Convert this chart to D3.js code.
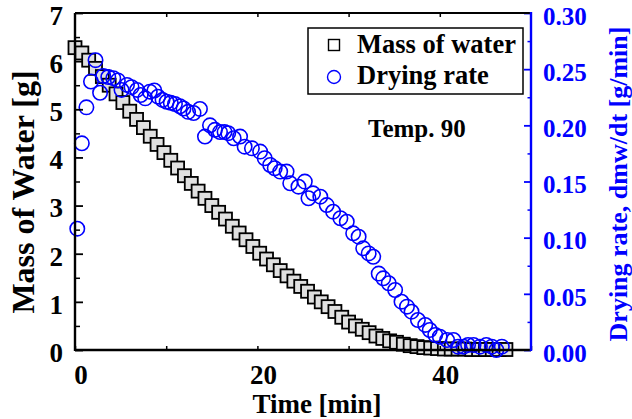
<!DOCTYPE html>
<html><head><meta charset="utf-8">
<script src="https://cdn.jsdelivr.net/npm/d3@7"></script>
<style>
html,body{margin:0;padding:0;background:#fff;}
text{font-family:"Liberation Serif","Times New Roman",serif;font-weight:bold;}
</style></head>
<body><svg id="c" width="632" height="419"></svg>
<script>
// ---- data ----
const massTime = [0,0.75,1.5,2.25,3,3.75,4.5,5.25,6,6.75,7.5,8.25,9,9.75,10.5,11.25,12,12.75,13.5,14.25,15,15.75,16.5,17.25,18,18.75,19.5,20.25,21,21.75,22.5,23.25,24,24.75,25.5,26.25,27,27.75,28.5,29.25,30,30.75,31.5,32.25,33,33.75,34.5,35.25,36,36.75,37.5,38.25,39,39.75,40.5,41.25,42,42.75,43.5,44.25,45,45.75,46.5,47.25];
const massWater = [6.28,6.17,6.02,5.85,5.68,5.50,5.32,5.14,4.96,4.79,4.62,4.44,4.27,4.10,3.94,3.78,3.62,3.46,3.30,3.15,3.00,2.86,2.72,2.57,2.43,2.29,2.15,2.01,1.89,1.77,1.65,1.54,1.43,1.32,1.22,1.10,1.00,0.90,0.80,0.68,0.58,0.50,0.43,0.36,0.29,0.24,0.19,0.16,0.12,0.09,0.07,0.05,0.04,0.03,0.02,0.02,0.02,0.02,0.01,0.01,0.01,0.01,0.01,0.01];
const rateTime = [0.25,0.75,1.25,1.75,2.25,2.75,3.1,3.65,4.2,4.7,5.1,5.7,6.2,6.8,7.2,7.7,8.2,8.7,9.1,9.6,10.05,10.5,10.96,11.5,11.9,12.4,13.0,13.7,14.25,14.8,15.35,15.9,16.4,16.8,17.4,18.1,18.6,19.4,20.3,20.8,21.4,21.9,22.5,23.2,23.6,24.5,25.2,25.6,26.1,26.9,27.6,28.3,29.1,29.8,30.5,31.1,31.6,32.2,32.7,33.3,33.8,34.4,35.1,35.8,36.4,36.9,37.6,38.4,38.9,39.5,40.0,40.8,41.5,42.0,42.6,43.1,43.7,44.4,45.1,45.7,46.2,46.8];
const dryingRate = [0.108,0.184,0.216,0.239,0.258,0.229,0.244,0.243,0.242,0.240,0.2315,0.236,0.234,0.2315,0.227,0.224,0.230,0.231,0.2255,0.2226,0.221,0.220,0.219,0.217,0.215,0.212,0.211,0.2146,0.190,0.200,0.196,0.194,0.194,0.193,0.1885,0.190,0.181,0.1795,0.1766,0.1707,0.1647,0.1618,0.1588,0.1588,0.1484,0.1454,0.1499,0.1351,0.1395,0.1365,0.129,0.1231,0.1173,0.1142,0.1039,0.1009,0.0905,0.086,0.083,0.068,0.0638,0.0594,0.0534,0.043,0.0386,0.0341,0.0267,0.0223,0.0178,0.0134,0.0118,0.0089,0.0089,0.003,0.003,0.0045,0.0045,0.003,0.0045,0.003,0.0,0.003];
const xTickLabels = [0,20,40];
const leftTickLabels = [0,1,2,3,4,5,6,7];
const rightTickLabels = [0,0.05,0.10,0.15,0.20,0.25,0.30];
const legendLabels = ["Mass of water","Drying rate"];
const annotation = "Temp. 90";
const xTitle = "Time [min]";
const yLeftTitle = "Mass of Water [g]";
const yRightTitle = "Drying rate, dmw/dt [g/min]";

// ---- layout ----
const L = 75, R = 531, T = 13, B = 350;
const BLUE = "#0000ff";
const FS = 25;
const svg = d3.select("#c");
const x = d3.scaleLinear().domain([0,50]).range([L,R]);
const yL = d3.scaleLinear().domain([0,7]).range([B,T]);
const yR = d3.scaleLinear().domain([0,0.3]).range([B,T]);

function styleAxis(g, color, sw, fs){
  g.select(".domain").remove();
  g.selectAll(".tick line").attr("stroke", color).attr("stroke-width", sw);
  g.selectAll(".tick text").attr("fill", color).style("font-size", (fs||FS)+"px").style("font-family",'"Liberation Serif","Times New Roman",serif').style("font-weight","bold");
}

// data: squares
const sq = 13;
svg.append("g").selectAll("rect").data(massTime).join("rect")
  .attr("x", (d)=>x(d)-sq/2).attr("y", (d,i)=>yL(massWater[i])-sq/2)
  .attr("width", sq).attr("height", sq)
  .attr("fill", "#e0e0e0").attr("stroke", "#000").attr("stroke-width", 1.8);

// circles
svg.append("g").selectAll("circle").data(rateTime).join("circle")
  .attr("cx", d=>x(d)).attr("cy", (d,i)=>yR(dryingRate[i])).attr("r", 7.2)
  .attr("fill", "none").attr("stroke", BLUE).attr("stroke-width", 1.6);

// axes
const gB = svg.append("g").attr("transform",`translate(0,${B})`)
  .call(d3.axisBottom(x).tickValues([0,10,20,30,40,50]).tickSize(-4).tickFormat(""));
styleAxis(gB,"#000",1.5);
svg.append("g").selectAll("text").data(xTickLabels).join("text")
  .attr("x", d=>x(d)+6).attr("y", 384).attr("text-anchor","middle")
  .style("font-size","27px").text(d=>d);
const gT = svg.append("g").attr("transform",`translate(0,${T})`)
  .call(d3.axisTop(x).tickValues([10,20,30,40]).tickSize(-4).tickFormat(""));
styleAxis(gT,"#000",1.5);
const gLm = svg.append("g").attr("transform",`translate(${L},0)`)
  .call(d3.axisLeft(yL).tickValues(d3.range(0.5,7,1)).tickSize(-5).tickFormat(""));
styleAxis(gLm,"#000",1.5);
const gL = svg.append("g").attr("transform",`translate(${L},0)`)
  .call(d3.axisLeft(yL).tickValues(leftTickLabels).tickSize(-8).tickPadding(12).tickFormat(d3.format("d")));
styleAxis(gL,"#000",1.8,27);
gL.selectAll(".tick text").attr("dy","0.42em");
const gRm = svg.append("g").attr("transform",`translate(${R},0)`)
  .call(d3.axisRight(yR).tickValues(d3.range(0.025,0.3,0.05)).tickSize(-3.5).tickFormat(""));
styleAxis(gRm,BLUE,1.5);
const gR = svg.append("g").attr("transform",`translate(${R},0)`)
  .call(d3.axisRight(yR).tickValues(rightTickLabels).tickSize(-7).tickPadding(12).tickFormat(d3.format(".2f")));
styleAxis(gR,BLUE,1.8);
gR.selectAll(".tick text").attr("dy","0.45em");

// frame lines
svg.append("line").attr("x1",L).attr("x2",R).attr("y1",T).attr("y2",T).attr("stroke","#000").attr("stroke-width",2);
svg.append("line").attr("x1",L).attr("x2",R).attr("y1",B).attr("y2",B).attr("stroke","#000").attr("stroke-width",2.4);
svg.append("line").attr("x1",L).attr("x2",L).attr("y1",T).attr("y2",B+1).attr("stroke","#000").attr("stroke-width",2.4);
svg.append("line").attr("x1",R).attr("x2",R).attr("y1",T-1).attr("y2",B+1).attr("stroke",BLUE).attr("stroke-width",2.4);

// legend
svg.append("rect").attr("x",308).attr("y",28).attr("width",215).attr("height",66)
  .attr("fill","#fff").attr("stroke","#000").attr("stroke-width",1.5);
svg.append("rect").attr("x",334-5.5).attr("y",45-5.5).attr("width",11).attr("height",11)
  .attr("fill","#fff").attr("stroke","#000").attr("stroke-width",1.4);
svg.append("circle").attr("cx",334).attr("cy",77).attr("r",6.5)
  .attr("fill","none").attr("stroke",BLUE).attr("stroke-width",1.4);
svg.append("text").attr("x",357).attr("y",53).style("font-size","26.5px").text(legendLabels[0]);
svg.append("text").attr("x",357).attr("y",84).style("font-size","26.5px").text(legendLabels[1]);

// annotation
svg.append("text").attr("x",368).attr("y",137).style("font-size","25px").text(annotation);

// titles
svg.append("text").attr("x",317).attr("y",413).attr("text-anchor","middle").style("font-size","27px").text(xTitle);
svg.append("text").attr("transform","translate(34,192) rotate(-90)").attr("text-anchor","middle").style("font-size","32px").text(yLeftTitle);
svg.append("text").attr("transform","translate(627,184) rotate(-90)").attr("text-anchor","middle").attr("fill",BLUE).style("font-size","26px").text(yRightTitle);
</script></body></html>
